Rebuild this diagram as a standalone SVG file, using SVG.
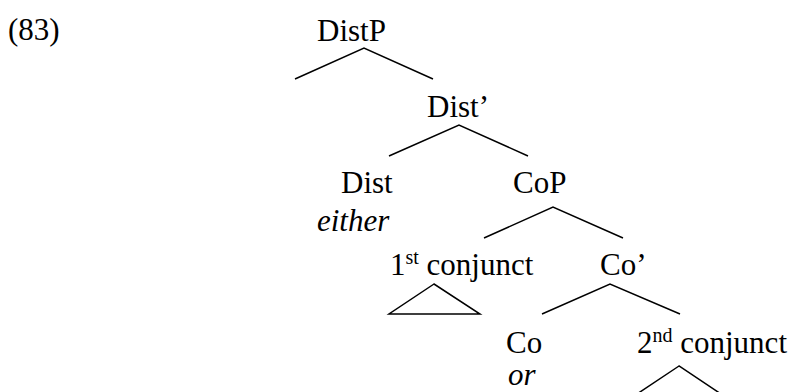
<svg xmlns="http://www.w3.org/2000/svg" width="796" height="392" viewBox="0 0 796 392">
  <style>
    text { font-family: "Liberation Serif", "Times New Roman", serif; font-size: 31px; fill: #000; }
    .it { font-style: italic; }
    .sup { font-size: 20px; }
    .edge { stroke: #000; stroke-width: 1.5; fill: none; stroke-linecap: butt; }
  </style>
  <rect width="796" height="392" fill="#fff"/>

  <!-- example number -->
  <text id="exnum" x="8" y="40">(83)</text>

  <!-- branches -->
  <g id="connectors">
    <polyline class="edge" points="295,79 364,48 433,79"/>
    <polyline class="edge" points="389,156 459,125 528,156"/>
    <polyline class="edge" points="484,238 553,207 623,238"/>
    <polyline class="edge" points="542,314 610,284 680,314"/>
    <!-- roof over 1st conjunct -->
    <polygon class="edge" points="434,284 389,314 480,314"/>
    <!-- roof over 2nd conjunct -->
    <polygon class="edge" points="679,366 634,396 724,396"/>
  </g>

  <g id="DistP"><text x="317" y="41">DistP</text></g>
  <g id="DistBar"><text x="427" y="117">Dist’</text></g>
  <g id="Dist">
    <text x="341" y="193">Dist</text>
    <text class="it" x="317" y="231">either</text>
  </g>
  <g id="CoP"><text x="513" y="193">CoP</text></g>
  <g id="conj1"><text x="390" y="275">1<tspan class="sup" dy="-11">st</tspan><tspan dy="11"> conjunct</tspan></text></g>
  <g id="CoBar"><text x="600" y="275">Co’</text></g>
  <g id="Co">
    <text x="506" y="353">Co</text>
    <text class="it" x="508" y="385">or</text>
  </g>
  <g id="conj2"><text x="637" y="353">2<tspan class="sup" dy="-11">nd</tspan><tspan dy="11"> conjunct</tspan></text></g>
</svg>
